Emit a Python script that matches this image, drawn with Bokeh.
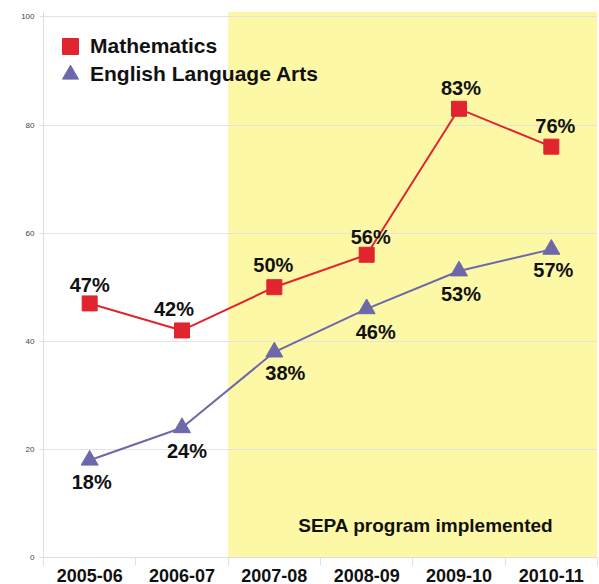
from bokeh.plotting import figure
from bokeh.models import (ColumnDataSource, BoxAnnotation, FixedTicker, Legend,
                          LegendItem, Label, Range1d)
from bokeh.embed import file_html
from bokeh.resources import INLINE
from bokeh.core.properties import value

# ---- data ----
categories = ["2005-06", "2006-07", "2007-08", "2008-09", "2009-10", "2010-11"]
math_pct = [47, 42, 50, 56, 83, 76]
ela_pct = [18, 24, 38, 46, 53, 57]
y_ticks = [0, 20, 40, 60, 80, 100]
program_start = "2007-08"
program_label = "SEPA program implemented"
series_names = ["Mathematics", "English Language Arts"]

# label offsets (screen px) for the value labels
math_dx = [0, -8, -1, 4, 2, 4]
math_dy = [-18, -21, -22, -18, -21, -21]
ela_dx = [2, 5, 11, 9, 2, 2]
ela_dy = [22, 23, 21, 23, 23, 21]

RED = "#e0252f"
PURPLE = "#6c68a9"
YELLOW = "#fdf8a6"
FONT = "Liberation Sans"

xpos = [i + 0.5 for i in range(len(categories))]

math_src = ColumnDataSource(dict(x=xpos, y=math_pct,
                                 t=[f"{v}%" for v in math_pct],
                                 dx=math_dx, dy=math_dy))
ela_src = ColumnDataSource(dict(x=xpos, y=ela_pct,
                                t=[f"{v}%" for v in ela_pct],
                                dx=ela_dx, dy=ela_dy))

p = figure(width=599, height=584, output_backend="svg", toolbar_location=None,
           x_range=Range1d(0, len(categories)), y_range=Range1d(0, 101),
           min_border_left=43, min_border_right=2, min_border_top=11,
           min_border_bottom=26)
p.outline_line_color = None
p.background_fill_color = "white"

# shaded program period
start_idx = categories.index(program_start)
p.add_layout(BoxAnnotation(left=start_idx, right=len(categories),
                           fill_color=YELLOW, fill_alpha=1.0,
                           line_color=None, level="image"))

# grid
p.xgrid.grid_line_color = None
p.ygrid.grid_line_color = "#e3e3e3"
p.ygrid.grid_line_width = 1
p.ygrid.ticker = FixedTicker(ticks=y_ticks)

# y axis
p.yaxis.ticker = FixedTicker(ticks=y_ticks)
p.yaxis.axis_line_color = "#dddddd"
p.yaxis.major_tick_line_color = "#dddddd"
p.yaxis.major_tick_out = 4
p.yaxis.major_tick_in = 0
p.yaxis.minor_tick_line_color = None
p.yaxis.major_label_standoff = 5
p.yaxis.major_label_text_font = FONT
p.yaxis.major_label_text_font_size = "8px"
p.yaxis.major_label_text_color = "#444444"

# x axis
p.xaxis.ticker = FixedTicker(ticks=xpos, minor_ticks=list(range(len(categories) + 1)))
p.xaxis.major_label_overrides = {x: c for x, c in zip(xpos, categories)}
p.xaxis.axis_line_color = "#dddddd"
p.xaxis.major_tick_line_color = None
p.xaxis.minor_tick_line_color = "#e0e0e0"
p.xaxis.minor_tick_out = 8
p.xaxis.minor_tick_in = 0
p.xaxis.major_label_standoff = 3
p.xaxis.major_label_text_font = FONT
p.xaxis.major_label_text_font_size = "18px"
p.xaxis.major_label_text_font_style = "bold"
p.xaxis.major_label_text_color = "#111111"

# lines
p.line("x", "y", source=ela_src, line_color=PURPLE, line_width=2)
p.line("x", "y", source=math_src, line_color=RED, line_width=2)
ela_marks = p.scatter("x", "y", source=ela_src, marker="triangle", size=17,
                      fill_color=PURPLE, line_color=PURPLE)
math_marks = p.scatter("x", "y", source=math_src, marker="square", size=15,
                       fill_color=RED, line_color=RED)

# value labels
for src in (math_src, ela_src):
    p.text("x", "y", text="t", source=src, x_offset="dx", y_offset="dy",
           text_align="center", text_baseline="middle",
           text_font=value(FONT), text_font_style="bold",
           text_font_size="20px", text_color="#111111")

# program label
p.add_layout(Label(x=(start_idx + len(categories)) / 2, y=0, x_offset=13,
                   y_offset=32, text=program_label, text_align="center",
                   text_baseline="middle", text_font=FONT,
                   text_font_style="bold", text_font_size="19px",
                   text_color="#111111"))

# legend: one single-item legend per series, stacked
legend_style = dict(orientation="vertical", glyph_width=40, glyph_height=40,
                    spacing=0, padding=0, margin=0, label_standoff=0,
                    label_height=28, label_text_font=FONT,
                    label_text_font_style="bold", label_text_font_size="21px",
                    label_text_color="#111111", border_line_color=None,
                    background_fill_alpha=0)
p.add_layout(Legend(items=[LegendItem(label=series_names[0], renderers=[math_marks])],
                    location=(7, 491), **legend_style))
p.add_layout(Legend(items=[LegendItem(label=series_names[1], renderers=[ela_marks])],
                    location=(7, 463), **legend_style))

open("out.html", "w").write(file_html(p, INLINE))
